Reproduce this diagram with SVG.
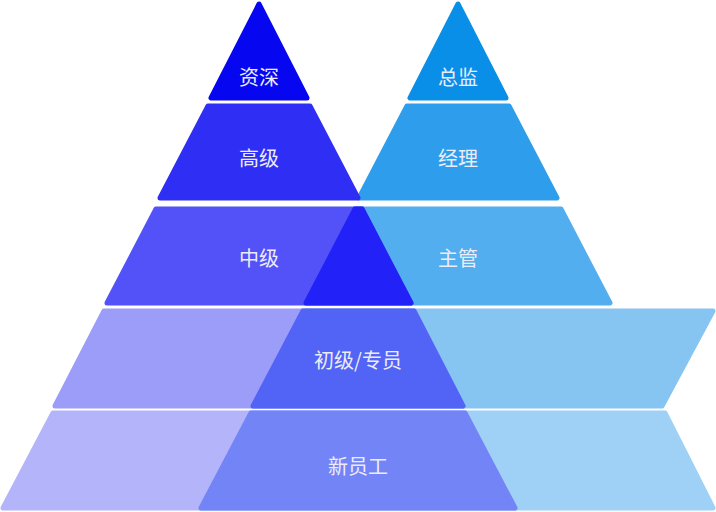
<svg xmlns="http://www.w3.org/2000/svg" width="716" height="512" viewBox="0 0 716 512">
<style>
polygon{stroke-linejoin:round;stroke-width:5}
text{font-family:"Noto Sans CJK SC","Noto Sans",sans-serif;font-size:20px;fill:#ECECF8;text-anchor:middle;dominant-baseline:central}
</style>
<rect width="716" height="512" fill="#fff"/>
<g id="right">
<polygon points="458,4 410,98 506,98" fill="#0A8FE8" stroke="#0A8FE8"/>
<polygon points="407,106 509,106 557,198 359,198" fill="#2E9EEC" stroke="#2E9EEC"/>
<polygon points="355,209 561,209 610,303 306,303" fill="#52AEEE" stroke="#52AEEE"/>
<polygon points="303,311 713,311 662,406 253,406" fill="#86C4F2" stroke="#86C4F2"/>
<polygon points="251,413 665,413 713,508 201,508" fill="#9FD0F5" stroke="#9FD0F5"/>
</g>
<g id="left">
<polygon points="259,4 211,98 307,98" fill="#0606F0" stroke="#0606F0"/>
<polygon points="208,106 310,106 358,198 160,198" fill="#2E2EF5" stroke="#2E2EF5"/>
<polygon points="156,209 362,209 411,303 107,303" fill="#5252F8" stroke="#5252F8"/>
<polygon points="104,311 414,311 463,406 55,406" fill="#9C9CF9" stroke="#9C9CF9"/>
<polygon points="53,413 465,413 515,508 3,508" fill="#B4B4FA" stroke="#B4B4FA"/>
</g>
<g id="overlap">
<polygon points="355,209 362,209 411,303 306,303" fill="#2222F8" stroke="#2222F8"/>
<polygon points="303,311 414,311 463,406 253,406" fill="#5264F6" stroke="#5264F6"/>
<polygon points="251,413 465,413 515,508 201,508" fill="#7284F6" stroke="#7284F6"/>
</g>
<g id="labels">
<text x="259" y="76">资深</text>
<text x="259" y="157">高级</text>
<text x="259" y="257">中级</text>
<text x="458" y="76">总监</text>
<text x="458" y="157">经理</text>
<text x="458" y="257">主管</text>
<text x="358" y="359">初级/专员</text>
<text x="358" y="465">新员工</text>
</g>
<g id="connectors"/>
</svg>
